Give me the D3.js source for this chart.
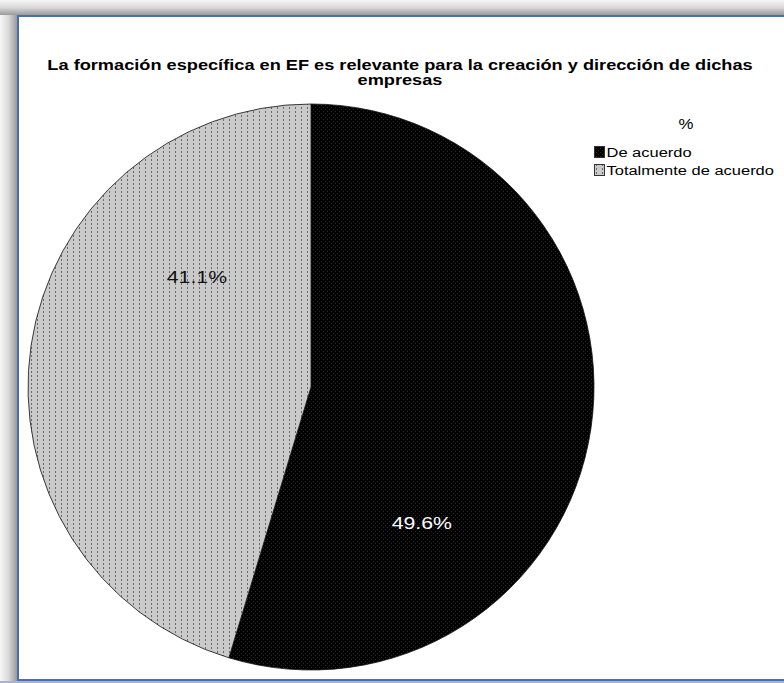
<!DOCTYPE html>
<html>
<head>
<meta charset="utf-8">
<script src="https://cdn.jsdelivr.net/npm/d3@7"></script>
<style>
  html, body { margin: 0; padding: 0; background: #fff; }
  svg { display: block; }
</style>
</head>
<body>
<svg id="chart" width="784" height="683"></svg>
<script>
// Survey answers and their shares (%)
const categories = ["De acuerdo", "Totalmente de acuerdo"];
const values = [49.6, 41.1];
const valueLabels = ["49.6%", "41.1%"];
const titleLines = [
  "La formación específica en EF es relevante para la creación y dirección de dichas",
  "empresas"
];
const legendTitle = "%";

const W = 784, H = 683;
const FONT = "Liberation Sans, Arial, sans-serif";
const svg = d3.select("#chart");
const defs = svg.append("defs");

// Window-style frame: soft grey shadow on the top/left, blue border
function grad(id, vertical) {
  const gr = defs.append("linearGradient").attr("id", id)
    .attr("x1", 0).attr("y1", 0).attr("x2", vertical ? 0 : 1).attr("y2", vertical ? 1 : 0);
  gr.append("stop").attr("offset", 0).attr("stop-color", "#f7f7f7");
  gr.append("stop").attr("offset", 0.5).attr("stop-color", "#d9d9d9");
  gr.append("stop").attr("offset", 1).attr("stop-color", "#9a9a9a");
}
grad("shadowL", false);
grad("shadowT", true);

svg.append("rect").attr("width", W).attr("height", H).attr("fill", "#fff");
svg.append("rect").attr("width", 17).attr("height", H).attr("fill", "url(#shadowL)");
svg.append("rect").attr("width", W).attr("height", 15).attr("fill", "url(#shadowT)");
svg.append("rect").attr("y", 681).attr("width", W).attr("height", 2).attr("fill", "#a9b4c8");
svg.append("rect").attr("x", 18).attr("y", 16).attr("width", W + 10).attr("height", 664)
  .attr("fill", "#fff").attr("stroke", "#4a6eb3").attr("stroke-width", 2);

// Fill patterns for the two slices
const pDark = defs.append("pattern").attr("id", "patDark")
  .attr("patternUnits", "userSpaceOnUse").attr("width", 4).attr("height", 4);
pDark.append("rect").attr("width", 4).attr("height", 4).attr("fill", "#000");
pDark.append("rect").attr("width", 1).attr("height", 1).attr("fill", "#2a2a2a");
pDark.append("rect").attr("x", 2).attr("y", 2).attr("width", 1).attr("height", 1).attr("fill", "#2a2a2a");

const pLight = defs.append("pattern").attr("id", "patLight")
  .attr("patternUnits", "userSpaceOnUse").attr("width", 6).attr("height", 4);
pLight.append("rect").attr("width", 6).attr("height", 4).attr("fill", "#cacaca");
pLight.append("rect").attr("x", 2).attr("width", 1).attr("height", 2).attr("fill", "#6a6a6a");

const fills = d3.scaleOrdinal().domain(categories).range(["url(#patDark)", "url(#patLight)"]);
const labelColors = d3.scaleOrdinal().domain(categories).range(["#ffffff", "#111111"]);

// Title
titleLines.forEach((t, i) => {
  svg.append("text")
    .attr("transform", `translate(400,${70 + i * 15}) scale(1.3,1)`)
    .attr("text-anchor", "middle")
    .attr("font-family", FONT)
    .attr("font-weight", "bold")
    .attr("font-size", 14)
    .attr("fill", "#000")
    .text(t);
});

// Pie
const cx = 311, cy = 387, r = 283;
const data = categories.map((c, i) => ({ cat: c, value: values[i], label: valueLabels[i] }));
const pie = d3.pie().value(d => d.value).sort(null);
const arc = d3.arc().innerRadius(0).outerRadius(r);
const arcs = pie(data);

const g = svg.append("g").attr("transform", `translate(${cx},${cy})`);
g.selectAll("path.slice").data(arcs).join("path")
  .attr("class", "slice")
  .attr("d", arc)
  .attr("fill", d => fills(d.data.cat))
  .attr("stroke", "#111")
  .attr("stroke-width", 0.8);

// Value labels, placed inside each slice
const labelPlace = { "De acuerdo": { shift: 0.74, rad: 0.62 }, "Totalmente de acuerdo": { shift: 0.62, rad: 0.56 } };
function labelPos(d) {
  const p = labelPlace[d.data.cat];
  const a = (d.startAngle + d.endAngle) / 2 + p.shift;
  return [Math.sin(a) * r * p.rad, -Math.cos(a) * r * p.rad + 6];
}
g.selectAll("text.val").data(arcs).join("text")
  .attr("class", "val")
  .attr("transform", d => { const [x, y] = labelPos(d); return `translate(${x},${y}) scale(1.25,1)`; })
  .attr("text-anchor", "middle")
  .attr("font-family", FONT)
  .attr("font-size", 17)
  .attr("fill", d => labelColors(d.data.cat))
  .text(d => d.data.label);

// Legend
const lg = svg.append("g").attr("transform", "translate(594,146)");
lg.append("text")
  .attr("transform", "translate(92,-17) scale(1.2,1)")
  .attr("text-anchor", "middle")
  .attr("font-family", FONT)
  .attr("font-size", 14).attr("fill", "#000").text(legendTitle);
const items = lg.selectAll("g.item").data(categories).join("g")
  .attr("class", "item")
  .attr("transform", (d, i) => `translate(0,${i * 18})`);
items.append("rect").attr("x", 0.5).attr("y", 0.5).attr("width", 10).attr("height", 11)
  .attr("fill", d => fills(d)).attr("stroke", "#333").attr("stroke-width", 1);
items.append("text")
  .attr("transform", "translate(12.5,11) scale(1.22,1)")
  .attr("font-family", FONT)
  .attr("font-size", 13.5).attr("fill", "#000").text(d => d);
</script>
</body>
</html>
